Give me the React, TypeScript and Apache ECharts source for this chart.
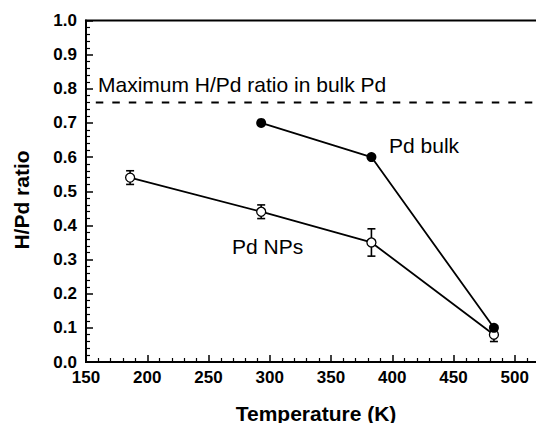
import React, { useEffect, useRef } from "react";
import * as echarts from "echarts";

// Hydrogen uptake (H/Pd) versus temperature
const npTemp = [186, 293, 383, 483];
const npRatio = [0.54, 0.44, 0.35, 0.08];
const npErr = [0.02, 0.02, 0.04, 0.02];

const bulkTemp = [293, 383, 483];
const bulkRatio = [0.7, 0.6, 0.1];

const bulkMaxRatio = 0.76;
const bulkMaxFrom = 158; // dashed reference starts a little right of the axis

const xTicks = { min: 150, max: 550, interval: 50 };
const yTicks = { min: 0, max: 1, interval: 0.1 };

const FONT = "'Liberation Sans', Arial, Helvetica, sans-serif";

export default function App() {
  const ref = useRef<HTMLDivElement>(null);

  useEffect(() => {
    document.body.style.margin = "0";
    if (!ref.current) return;
    const chart = echarts.init(ref.current, undefined, { renderer: "svg" });

    const npPoints = npTemp.map((t, i) => [t, npRatio[i]]);
    const npBars = npTemp.map((t, i) => [t, npRatio[i] - npErr[i], npRatio[i] + npErr[i]]);
    const bulkPoints = bulkTemp.map((t, i) => [t, bulkRatio[i]]);

    const note = (text: string, x: number, y: number) => ({
      type: "text",
      x,
      y,
      style: {
        text,
        fontFamily: FONT,
        fontSize: 21,
        fill: "#000",
        align: "left",
        verticalAlign: "middle",
      },
    });

    chart.setOption({
      animation: false,
      backgroundColor: "#fff",
      grid: {
        left: 86,
        right: -40,
        top: 20.5,
        bottom: 61,
        containLabel: false,
        outerBoundsMode: "none",
        show: true,
        borderColor: "#000",
        borderWidth: 2,
        backgroundColor: "transparent",
      },
      xAxis: {
        type: "value",
        min: xTicks.min,
        max: xTicks.max,
        interval: xTicks.interval,
        axisLine: { show: true, onZero: false, lineStyle: { color: "#000", width: 2 } },
        axisTick: { show: true, inside: true, length: 7, lineStyle: { color: "#000", width: 1.5 } },
        minorTick: { show: true, splitNumber: 5, length: 4, lineStyle: { color: "#000", width: 1.2 } },
        splitLine: { show: false },
        axisLabel: {
          color: "#000",
          fontFamily: FONT,
          fontWeight: "bold",
          fontSize: 17,
          margin: 7,
          showMaxLabel: false,
        },
      },
      yAxis: {
        type: "value",
        min: yTicks.min,
        max: yTicks.max,
        interval: yTicks.interval,
        axisLine: { show: true, onZero: false, lineStyle: { color: "#000", width: 2 } },
        axisTick: { show: true, inside: true, length: 7, lineStyle: { color: "#000", width: 1.5 } },
        minorTick: { show: true, splitNumber: 5, length: 4, lineStyle: { color: "#000", width: 1.2 } },
        splitLine: { show: false },
        axisLabel: {
          color: "#000",
          fontFamily: FONT,
          fontWeight: "bold",
          fontSize: 17,
          margin: 9,
          formatter: (v: number) => v.toFixed(1),
        },
      },
      graphic: [
        {
          type: "text",
          x: 316,
          y: 413,
          style: {
            text: "Temperature (K)",
            fontFamily: FONT,
            fontWeight: "bold",
            fontSize: 21,
            fill: "#000",
            align: "center",
            verticalAlign: "middle",
          },
        },
        {
          type: "text",
          x: 21,
          y: 200,
          rotation: Math.PI / 2,
          style: {
            text: "H/Pd ratio",
            fontFamily: FONT,
            fontWeight: "bold",
            fontSize: 21,
            fill: "#000",
            align: "center",
            verticalAlign: "middle",
          },
        },
        note("Maximum H/Pd ratio in bulk Pd", 98, 84),
        note("Pd bulk", 389, 145.5),
        note("Pd NPs", 232, 246.5),
      ],
      series: [
        {
          name: "Maximum in bulk Pd",
          type: "line",
          data: [
            [bulkMaxFrom, bulkMaxRatio],
            [xTicks.max, bulkMaxRatio],
          ],
          symbol: "none",
          lineStyle: { color: "#000", width: 2, type: [7.5, 9] },
          silent: true,
          z: 1,
        },
        {
          name: "Pd NPs error",
          type: "custom",
          data: npBars,
          z: 2,
          renderItem: (params: any, api: any) => {
            const x = api.value(0);
            const lo = api.coord([x, api.value(1)]);
            const hi = api.coord([x, api.value(2)]);
            const half = 4;
            const style = { stroke: "#000", lineWidth: 1.6 };
            return {
              type: "group",
              children: [
                { type: "line", shape: { x1: lo[0], y1: lo[1], x2: hi[0], y2: hi[1] }, style },
                { type: "line", shape: { x1: lo[0] - half, y1: lo[1], x2: lo[0] + half, y2: lo[1] }, style },
                { type: "line", shape: { x1: hi[0] - half, y1: hi[1], x2: hi[0] + half, y2: hi[1] }, style },
              ],
            };
          },
        },
        {
          name: "Pd NPs",
          type: "line",
          data: npPoints,
          symbol: "circle",
          symbolSize: 9,
          showAllSymbol: true,
          itemStyle: { color: "#fff", borderColor: "#000", borderWidth: 1.3 },
          lineStyle: { color: "#000", width: 1.8 },
          z: 3,
        },
        {
          name: "Pd bulk",
          type: "line",
          data: bulkPoints,
          symbol: "circle",
          symbolSize: 10,
          itemStyle: { color: "#000", borderColor: "#000", borderWidth: 0 },
          lineStyle: { color: "#000", width: 1.8 },
          z: 4,
        },
      ],
    });

    return () => chart.dispose();
  }, []);

  return <div ref={ref} style={{ width: 536, height: 423 }} />;
}
